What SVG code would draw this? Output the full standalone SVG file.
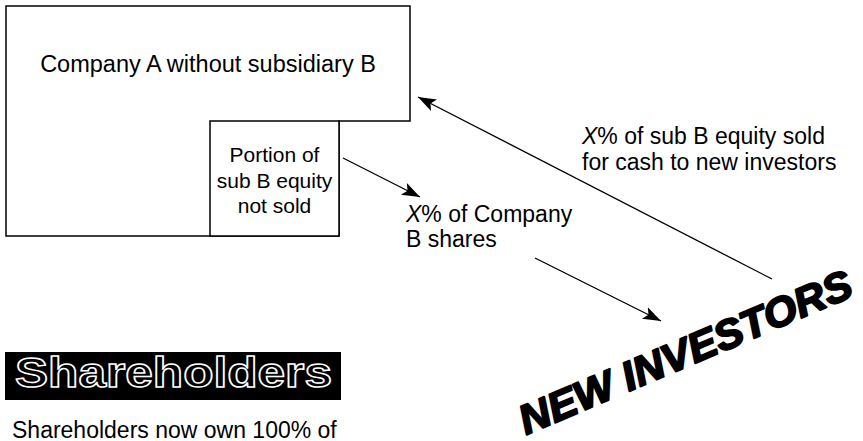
<svg xmlns="http://www.w3.org/2000/svg" width="863" height="441" viewBox="0 0 863 441">
<style>
.box{fill:#fff;stroke:#000;stroke-width:1.5}
.t{font-family:"Liberation Sans",Arial,Helvetica,sans-serif;fill:#000}
.conn{stroke:#000;stroke-width:1.3;fill:none}
</style>
<defs>
<marker id="ah" viewBox="0 0 18 13" markerUnits="userSpaceOnUse" markerWidth="18" markerHeight="13" refX="18" refY="6.5" orient="auto">
<path d="M0,0 L18,6.5 L0,13 L4,6.5 Z" fill="#000"/>
</marker>
</defs>
<rect width="863" height="441" fill="#fff"/>
<g id="companyA">
<polygon class="box" points="6,6 410,6 410,121 339,121 339,236 6,236"/>
<text class="t" x="208" y="72" font-size="23.5" text-anchor="middle">Company A without subsidiary B</text>
</g>
<g id="subB">
<rect class="box" x="210" y="121" width="129" height="115"/>
<text class="t" font-size="21" text-anchor="middle"><tspan x="274.5" y="162">Portion of</tspan><tspan x="274.5" y="188">sub B equity</tspan><tspan x="274.5" y="213">not sold</tspan></text>
</g>
<g id="connectors">
<line class="conn" x1="343" y1="158" x2="420" y2="197" marker-end="url(#ah)"/>
<line class="conn" x1="535" y1="258" x2="661" y2="321" marker-end="url(#ah)"/>
<line class="conn" x1="772" y1="279" x2="418" y2="97" marker-end="url(#ah)"/>
</g>
<g id="label-sold">
<text class="t" font-size="23"><tspan x="582" y="144"><tspan font-style="italic">X</tspan>% of sub B equity sold</tspan><tspan x="582" y="170">for cash to new investors</tspan></text>
</g>
<g id="label-shares">
<text class="t" font-size="23"><tspan x="406" y="222"><tspan font-style="italic">X</tspan>% of Company</tspan><tspan x="406" y="247">B shares</tspan></text>
</g>
<g id="newInvestors">
<text class="t" transform="translate(526,435) rotate(-23)" font-size="41" font-weight="bold" font-style="italic" stroke="#000" stroke-width="2" stroke-linejoin="round" textLength="358" lengthAdjust="spacingAndGlyphs">NEW INVESTORS</text>
</g>
<g id="shareholders">
<rect x="5" y="352" width="336" height="48" fill="#000"/>
<text class="t" x="15" y="387" font-size="42" font-weight="bold" fill="#000" stroke="#fff" stroke-width="1.5" textLength="317" lengthAdjust="spacingAndGlyphs">Shareholders</text>
<text class="t" x="12" y="438" font-size="23">Shareholders now own 100% of</text>
</g>
</svg>
